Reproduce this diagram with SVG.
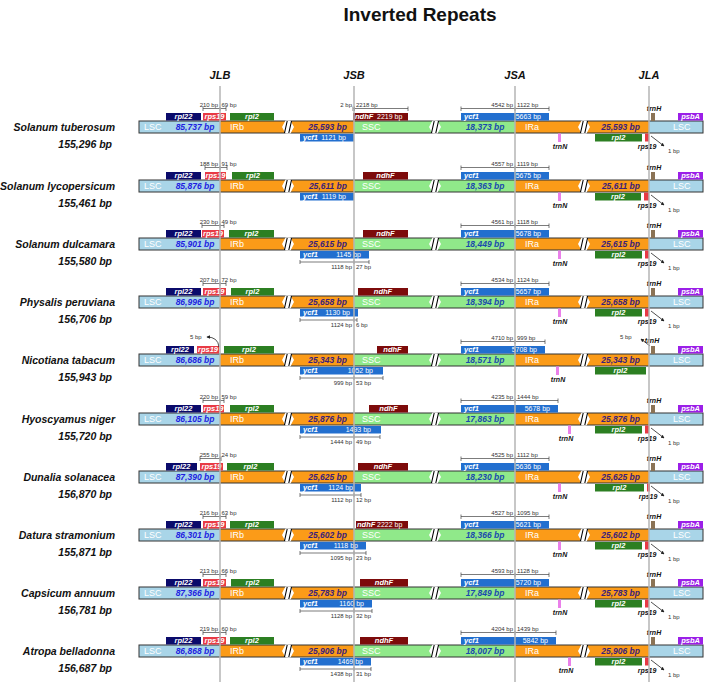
<svg xmlns="http://www.w3.org/2000/svg" xmlns:xlink="http://www.w3.org/1999/xlink" width="707" height="682" viewBox="0 0 707 682">
<style>
text{font-family:"Liberation Sans",Arial,sans-serif}
.lsc{fill:#a9d5e8}.ir{fill:#fb9b18}.ssc{fill:#90e98a}
.outl{fill:none;stroke:#333;stroke-width:1}
.g22{fill:#0b0b6b}.g19{fill:#e83a45}.gl2{fill:#2c7f22}.ndh{fill:#7d0b0b}.ycf{fill:#226fcf}.trh{fill:#8b7355}.psb{fill:#9b1fe8}.trn{fill:#ea80ea}
.gt{font-size:7.5px;font-weight:bold;font-style:italic;fill:#fff;text-anchor:middle}
.gs{font-size:7.5px;font-weight:bold;font-style:italic;fill:#fff}
.gn{font-size:7px;fill:#fff}
.ge{font-size:7px;fill:#fff;text-anchor:end}
.rg{font-size:9px;fill:#fff}
.bpL{font-size:8.5px;font-weight:bold;font-style:italic;fill:#1e1ee0;text-anchor:middle}
.bpI{font-size:8.5px;font-weight:bold;font-style:italic;fill:#3b1f7a;text-anchor:end}
.bpS{font-size:8.5px;font-weight:bold;font-style:italic;fill:#1a4aad;text-anchor:middle}
.sp{font-size:10.5px;font-weight:bold;font-style:italic;fill:#111;text-anchor:end}
.sm{font-size:6px;fill:#333}
.sme{font-size:6px;fill:#333;text-anchor:end}
.lb{font-size:7px;font-weight:bold;font-style:italic;fill:#111;text-anchor:middle}
.dim{fill:none;stroke:#444;stroke-width:0.7}
.con{fill:none;stroke:#222;stroke-width:0.8}
.vl{stroke:#b5b5b5;stroke-width:1.5}
.hd{font-size:11px;font-weight:bold;font-style:italic;fill:#111;text-anchor:middle}
</style>
<defs>
<marker id="ah" viewBox="0 0 6 6" refX="5" refY="3" markerWidth="4.5" markerHeight="4.5" orient="auto"><path d="M0,0 L6,3 L0,6 z" fill="#222"/></marker>
<g id="brk"><polygon points="-6,6 -2.5,-0.5 2.5,-0.5 6,6 2.5,12.5 -2.5,12.5" fill="#fff"/><path d="M-3.5,12 L-0.8,0 M0.8,12 L3.5,0" stroke="#000" stroke-width="1.1"/></g>
<g id="bar">
<rect class="lsc" x="139" y="0" width="81" height="12"/>
<rect class="ir" x="220" y="0" width="134" height="12"/>
<rect class="ssc" x="354" y="0" width="161" height="12"/>
<rect class="ir" x="515" y="0" width="134" height="12"/>
<rect class="lsc" x="649" y="0" width="54" height="12"/>
<rect class="outl" x="139" y="0" width="564" height="12"/>
<use xlink:href="#brk" href="#brk" x="288"/>
<use xlink:href="#brk" href="#brk" x="435"/>
<use xlink:href="#brk" href="#brk" x="584"/>
<text class="rg" x="144" y="9.3">LSC</text>
<text class="rg" x="230" y="9.3">IRb</text>
<text class="rg" x="362" y="9.3">SSC</text>
<text class="rg" x="525" y="9.3">IRa</text>
<text class="rg" x="673" y="9.3">LSC</text>
</g>
</defs>
<rect width="707" height="682" fill="#fff"/>
<text x="420" y="21" font-size="19" font-weight="bold" text-anchor="middle" fill="#111">Inverted Repeats</text>
<text class="hd" x="220" y="79">JLB</text>
<text class="hd" x="354" y="79">JSB</text>
<text class="hd" x="515" y="79">JSA</text>
<text class="hd" x="649" y="79">JLA</text>

<g id="row1" transform="translate(0,121)">
<text class="sp" x="115" y="10">Solanum tuberosum</text><text class="sp" x="112" y="26.5">155,296 bp</text>
<use xlink:href="#bar" href="#bar"/>
<text class="bpL" x="195" y="9.2">85,737 bp</text><text class="bpI" x="347" y="9.2">25,593 bp</text><text class="bpS" x="485" y="9.2">18,373 bp</text><text class="bpI" x="640" y="9.2">25,593 bp</text>
<rect class="g22" x="166" y="-8" width="35" height="7.5"/><text class="gt" x="183.5" y="-1.7">rpl22</text>
<rect class="g19" x="203" y="-8" width="23" height="7.5"/><text class="gt" x="214.5" y="-1.7">rps19</text>
<rect class="gl2" x="230" y="-8" width="44" height="7.5"/><text class="gt" x="252" y="-1.7">rpl2</text>
<path class="dim" d="M203,-14.5v4.5M203,-12.5H226M226,-14.5v4.5M220,-14.5v4.5"/><text class="sme" x="218" y="-14.5">210 bp</text><text class="sm" x="221.5" y="-14.5">69 bp</text>
<rect class="ndh" x="353" y="-8" width="55" height="7.5"/><text class="gs" x="355" y="-1.7">ndhF</text><text class="gn" x="377" y="-1.7">2219 bp</text>
<path class="dim" d="M353,-14.5v4.5M353,-12.5H408M408,-14.5v4.5M354.5,-14.5v4.5"/><text class="sme" x="352" y="-14.5">2 bp</text><text class="sm" x="356" y="-14.5">2218 bp</text>
<rect class="ycf" x="461" y="-8" width="88" height="7.5"/><text class="gs" x="464" y="-1.7">ycf1</text><text class="ge" x="541" y="-1.7">5663 bp</text>
<path class="dim" d="M461,-14.5v4.5M461,-12.5H549M549,-14.5v4.5M515,-14.5v4.5"/><text class="sme" x="513" y="-14.5">4542 bp</text><text class="sm" x="517" y="-14.5">1122 bp</text>
<rect class="trh" x="651" y="-8" width="4" height="8"/><text class="lb" x="654" y="-10.5">trnH</text>
<rect class="psb" x="678" y="-8" width="25" height="7.5"/><text class="gt" x="690.5" y="-1.7">psbA</text>
<rect class="ycf" x="300" y="13" width="54" height="7.5"/><text class="gs" x="303" y="19.4">ycf1</text><text class="ge" x="346" y="19.4">1121 bp</text>
<rect class="trn" x="558" y="12.5" width="3" height="8.5"/><text class="lb" x="560" y="28">trnN</text>
<rect class="gl2" x="595" y="13" width="47" height="7.5"/><text class="gt" x="618.5" y="19.4">rpl2</text>
<rect class="g19" x="645" y="12.5" width="4" height="8"/><text class="lb" x="647" y="28">rps19</text>
<text class="sm" x="668" y="32">1 bp</text>
</g>

<g id="row2" transform="translate(0,180)">
<text class="sp" x="115" y="10">Solanum lycopersicum</text><text class="sp" x="112" y="26.5">155,461 bp</text>
<use xlink:href="#bar" href="#bar"/>
<text class="bpL" x="195" y="9.2">85,876 bp</text><text class="bpI" x="347" y="9.2">25,611 bp</text><text class="bpS" x="485" y="9.2">18,363 bp</text><text class="bpI" x="640" y="9.2">25,611 bp</text>
<rect class="g22" x="166" y="-8" width="35" height="7.5"/><text class="gt" x="183.5" y="-1.7">rpl22</text>
<rect class="g19" x="205" y="-8" width="21" height="7.5"/><text class="gt" x="215.5" y="-1.7">rps19</text>
<rect class="gl2" x="232" y="-8" width="42" height="7.5"/><text class="gt" x="253" y="-1.7">rpl2</text>
<path class="dim" d="M205,-14.5v4.5M205,-12.5H227M227,-14.5v4.5M220,-14.5v4.5"/><text class="sme" x="218" y="-14.5">188 bp</text><text class="sm" x="221.5" y="-14.5">91 bp</text>
<rect class="ndh" x="363" y="-8" width="45" height="7.5"/><text class="gt" x="385.5" y="-1.7">ndhF</text>
<rect class="ycf" x="461" y="-8" width="88" height="7.5"/><text class="gs" x="464" y="-1.7">ycf1</text><text class="ge" x="541" y="-1.7">5675 bp</text>
<path class="dim" d="M461,-14.5v4.5M461,-12.5H549M549,-14.5v4.5M515,-14.5v4.5"/><text class="sme" x="513" y="-14.5">4557 bp</text><text class="sm" x="517" y="-14.5">1119 bp</text>
<rect class="trh" x="651" y="-8" width="4" height="8"/><text class="lb" x="654" y="-10.5">trnH</text>
<rect class="psb" x="678" y="-8" width="25" height="7.5"/><text class="gt" x="690.5" y="-1.7">psbA</text>
<rect class="ycf" x="300" y="13" width="54" height="7.5"/><text class="gs" x="303" y="19.4">ycf1</text><text class="ge" x="346" y="19.4">1119 bp</text>
<rect class="trn" x="558" y="12.5" width="3" height="8.5"/><text class="lb" x="560" y="28">trnN</text>
<rect class="gl2" x="595" y="13" width="46" height="7.5"/><text class="gt" x="618" y="19.4">rpl2</text>
<rect class="g19" x="644" y="12.5" width="5" height="8"/><text class="lb" x="647" y="28">rps19</text>
<text class="sm" x="668" y="32">1 bp</text>
</g>

<g id="row3" transform="translate(0,238)">
<text class="sp" x="115" y="10">Solanum dulcamara</text><text class="sp" x="112" y="26.5">155,580 bp</text>
<use xlink:href="#bar" href="#bar"/>
<text class="bpL" x="195" y="9.2">85,901 bp</text><text class="bpI" x="347" y="9.2">25,615 bp</text><text class="bpS" x="485" y="9.2">18,449 bp</text><text class="bpI" x="640" y="9.2">25,615 bp</text>
<rect class="g22" x="166" y="-8" width="35" height="7.5"/><text class="gt" x="183.5" y="-1.7">rpl22</text>
<rect class="g19" x="202" y="-8" width="22" height="7.5"/><text class="gt" x="213" y="-1.7">rps19</text>
<rect class="gl2" x="229" y="-8" width="45" height="7.5"/><text class="gt" x="251.5" y="-1.7">rpl2</text>
<path class="dim" d="M202,-14.5v4.5M202,-12.5H224M224,-14.5v4.5M220,-14.5v4.5"/><text class="sme" x="218" y="-14.5">230 bp</text><text class="sm" x="221.5" y="-14.5">49 bp</text>
<rect class="ndh" x="363" y="-8" width="45" height="7.5"/><text class="gt" x="385.5" y="-1.7">ndhF</text>
<rect class="ycf" x="461" y="-8" width="88" height="7.5"/><text class="gs" x="464" y="-1.7">ycf1</text><text class="ge" x="541" y="-1.7">5678 bp</text>
<path class="dim" d="M461,-14.5v4.5M461,-12.5H549M549,-14.5v4.5M515,-14.5v4.5"/><text class="sme" x="513" y="-14.5">4561 bp</text><text class="sm" x="517" y="-14.5">1118 bp</text>
<rect class="trh" x="651" y="-8" width="4" height="8"/><text class="lb" x="654" y="-10.5">trnH</text>
<rect class="psb" x="678" y="-8" width="25" height="7.5"/><text class="gt" x="690.5" y="-1.7">psbA</text>
<rect class="ycf" x="300" y="13" width="69" height="7.5"/><text class="gs" x="303" y="19.4">ycf1</text><text class="ge" x="361" y="19.4">1145 bp</text>
<path class="dim" d="M300,22v4M300,24H369M369,22v4M354,22v4"/><text class="sme" x="352" y="31">1118 bp</text><text class="sm" x="356" y="31">27 bp</text>
<rect class="trn" x="558" y="12.5" width="3" height="8.5"/><text class="lb" x="560" y="28">trnN</text>
<rect class="gl2" x="595" y="13" width="47" height="7.5"/><text class="gt" x="618.5" y="19.4">rpl2</text>
<rect class="g19" x="645" y="12.5" width="4" height="8"/><text class="lb" x="647" y="28">rps19</text>
<text class="sm" x="668" y="32">1 bp</text>
</g>

<g id="row4" transform="translate(0,296)">
<text class="sp" x="115" y="10">Physalis peruviana</text><text class="sp" x="112" y="26.5">156,706 bp</text>
<use xlink:href="#bar" href="#bar"/>
<text class="bpL" x="195" y="9.2">86,996 bp</text><text class="bpI" x="347" y="9.2">25,658 bp</text><text class="bpS" x="485" y="9.2">18,394 bp</text><text class="bpI" x="640" y="9.2">25,658 bp</text>
<rect class="g22" x="166" y="-8" width="35" height="7.5"/><text class="gt" x="183.5" y="-1.7">rpl22</text>
<rect class="g19" x="203" y="-8" width="23" height="7.5"/><text class="gt" x="214.5" y="-1.7">rps19</text>
<rect class="gl2" x="231" y="-8" width="43" height="7.5"/><text class="gt" x="252.5" y="-1.7">rpl2</text>
<path class="dim" d="M203,-14.5v4.5M203,-12.5H226M226,-14.5v4.5M220,-14.5v4.5"/><text class="sme" x="218" y="-14.5">207 bp</text><text class="sm" x="221.5" y="-14.5">72 bp</text>
<rect class="ndh" x="358" y="-8" width="50" height="7.5"/><text class="gt" x="383" y="-1.7">ndhF</text>
<rect class="ycf" x="461" y="-8" width="88" height="7.5"/><text class="gs" x="464" y="-1.7">ycf1</text><text class="ge" x="541" y="-1.7">5657 bp</text>
<path class="dim" d="M461,-14.5v4.5M461,-12.5H549M549,-14.5v4.5M515,-14.5v4.5"/><text class="sme" x="513" y="-14.5">4534 bp</text><text class="sm" x="517" y="-14.5">1124 bp</text>
<rect class="trh" x="651" y="-8" width="4" height="8"/><text class="lb" x="654" y="-10.5">trnH</text>
<rect class="psb" x="678" y="-8" width="25" height="7.5"/><text class="gt" x="690.5" y="-1.7">psbA</text>
<rect class="ycf" x="300" y="13" width="58" height="7.5"/><text class="gs" x="303" y="19.4">ycf1</text><text class="ge" x="350" y="19.4">1130 bp</text>
<path class="dim" d="M300,22v4M300,24H357M357,22v4M354,22v4"/><text class="sme" x="352" y="31">1124 bp</text><text class="sm" x="356" y="31">6 bp</text>
<rect class="trn" x="558" y="12.5" width="3" height="8.5"/><text class="lb" x="560" y="28">trnN</text>
<rect class="gl2" x="595" y="13" width="47" height="7.5"/><text class="gt" x="618.5" y="19.4">rpl2</text>
<rect class="g19" x="645" y="12.5" width="4" height="8"/><text class="lb" x="647" y="28">rps19</text>
<text class="sm" x="668" y="32">1 bp</text>
</g>

<g id="row5" transform="translate(0,354)">
<text class="sp" x="115" y="10">Nicotiana tabacum</text><text class="sp" x="112" y="26.5">155,943 bp</text>
<use xlink:href="#bar" href="#bar"/>
<text class="bpL" x="195" y="9.2">86,686 bp</text><text class="bpI" x="347" y="9.2">25,343 bp</text><text class="bpS" x="485" y="9.2">18,571 bp</text><text class="bpI" x="640" y="9.2">25,343 bp</text>
<rect class="g22" x="166" y="-8" width="28" height="7.5"/><text class="gt" x="180" y="-1.7">rpl22</text>
<rect class="g19" x="197" y="-8" width="22" height="7.5"/><text class="gt" x="208" y="-1.7">rps19</text>
<rect class="gl2" x="224" y="-8" width="50" height="7.5"/><text class="gt" x="249" y="-1.7">rpl2</text>
<text class="sm" x="190" y="-15.5">5 bp</text>
<rect class="ndh" x="377" y="-8" width="31" height="7.5"/><text class="gt" x="392.5" y="-1.7">ndhF</text>
<rect class="ycf" x="461" y="-8" width="84" height="7.5"/><text class="gs" x="464" y="-1.7">ycf1</text><text class="ge" x="537" y="-1.7">5708 bp</text>
<path class="dim" d="M461,-14.5v4.5M461,-12.5H545M545,-14.5v4.5M515,-14.5v4.5"/><text class="sme" x="513" y="-14.5">4710 bp</text><text class="sm" x="517" y="-14.5">999 bp</text>
<rect class="trh" x="651" y="-8" width="4" height="8"/><text class="lb" x="652" y="-11">trnH</text>
<text class="sm" x="620" y="-15.5">5 bp</text>
<rect class="psb" x="678" y="-8" width="25" height="7.5"/><text class="gt" x="690.5" y="-1.7">psbA</text>
<rect class="ycf" x="300" y="13" width="83" height="7.5"/><text class="gs" x="303" y="19.4">ycf1</text><text class="ge" x="373" y="19.4">1052 bp</text>
<path class="dim" d="M300,22v4M300,24H383M383,22v4M354,22v4"/><text class="sme" x="352" y="31">999 bp</text><text class="sm" x="356" y="31">53 bp</text>
<rect class="trn" x="556" y="12.5" width="3" height="8.5"/><text class="lb" x="558" y="28">trnN</text>
<rect class="gl2" x="595" y="13" width="51" height="7.5"/><text class="gt" x="620.5" y="19.4">rpl2</text>
</g>

<g id="row6" transform="translate(0,413)">
<text class="sp" x="115" y="10">Hyoscyamus niger</text><text class="sp" x="112" y="26.5">155,720 bp</text>
<use xlink:href="#bar" href="#bar"/>
<text class="bpL" x="195" y="9.2">86,105 bp</text><text class="bpI" x="347" y="9.2">25,876 bp</text><text class="bpS" x="485" y="9.2">17,863 bp</text><text class="bpI" x="640" y="9.2">25,876 bp</text>
<rect class="g22" x="166" y="-8" width="35" height="7.5"/><text class="gt" x="183.5" y="-1.7">rpl22</text>
<rect class="g19" x="203" y="-8" width="21" height="7.5"/><text class="gt" x="213.5" y="-1.7">rps19</text>
<rect class="gl2" x="230" y="-8" width="44" height="7.5"/><text class="gt" x="252" y="-1.7">rpl2</text>
<path class="dim" d="M203,-14.5v4.5M203,-12.5H224M224,-14.5v4.5M220,-14.5v4.5"/><text class="sme" x="218" y="-14.5">220 bp</text><text class="sm" x="221.5" y="-14.5">59 bp</text>
<rect class="ndh" x="369" y="-8" width="39" height="7.5"/><text class="gt" x="388.5" y="-1.7">ndhF</text>
<rect class="ycf" x="461" y="-8" width="97" height="7.5"/><text class="gs" x="464" y="-1.7">ycf1</text><text class="ge" x="550" y="-1.7">5678 bp</text>
<path class="dim" d="M461,-14.5v4.5M461,-12.5H558M558,-14.5v4.5M515,-14.5v4.5"/><text class="sme" x="513" y="-14.5">4235 bp</text><text class="sm" x="517" y="-14.5">1444 bp</text>
<rect class="trh" x="651" y="-8" width="4" height="8"/><text class="lb" x="654" y="-10.5">trnH</text>
<rect class="psb" x="678" y="-8" width="25" height="7.5"/><text class="gt" x="690.5" y="-1.7">psbA</text>
<rect class="ycf" x="300" y="13" width="81" height="7.5"/><text class="gs" x="303" y="19.4">ycf1</text><text class="ge" x="371" y="19.4">1493 bp</text>
<path class="dim" d="M300,22v4M300,24H380M380,22v4M354,22v4"/><text class="sme" x="352" y="31">1444 bp</text><text class="sm" x="356" y="31">49 bp</text>
<rect class="trn" x="568" y="12.5" width="3" height="8.5"/><text class="lb" x="566" y="28">trnN</text>
<rect class="gl2" x="595" y="13" width="47" height="7.5"/><text class="gt" x="618.5" y="19.4">rpl2</text>
<rect class="g19" x="645" y="12.5" width="4" height="8"/><text class="lb" x="647" y="28">rps19</text>
<text class="sm" x="668" y="32">1 bp</text>
</g>

<g id="row7" transform="translate(0,471)">
<text class="sp" x="115" y="10">Dunalia solanacea</text><text class="sp" x="112" y="26.5">156,870 bp</text>
<use xlink:href="#bar" href="#bar"/>
<text class="bpL" x="195" y="9.2">87,390 bp</text><text class="bpI" x="347" y="9.2">25,625 bp</text><text class="bpS" x="485" y="9.2">18,230 bp</text><text class="bpI" x="640" y="9.2">25,625 bp</text>
<rect class="g22" x="166" y="-8" width="31" height="7.5"/><text class="gt" x="181.5" y="-1.7">rpl22</text>
<rect class="g19" x="200" y="-8" width="23" height="7.5"/><text class="gt" x="211.5" y="-1.7">rps19</text>
<rect class="gl2" x="227" y="-8" width="47" height="7.5"/><text class="gt" x="250.5" y="-1.7">rpl2</text>
<path class="dim" d="M200,-14.5v4.5M200,-12.5H221M221,-14.5v4.5M220,-14.5v4.5"/><text class="sme" x="218" y="-14.5">255 bp</text><text class="sm" x="221.5" y="-14.5">24 bp</text>
<rect class="ndh" x="358" y="-8" width="50" height="7.5"/><text class="gt" x="383" y="-1.7">ndhF</text>
<rect class="ycf" x="461" y="-8" width="88" height="7.5"/><text class="gs" x="464" y="-1.7">ycf1</text><text class="ge" x="541" y="-1.7">5636 bp</text>
<path class="dim" d="M461,-14.5v4.5M461,-12.5H549M549,-14.5v4.5M515,-14.5v4.5"/><text class="sme" x="513" y="-14.5">4525 bp</text><text class="sm" x="517" y="-14.5">1112 bp</text>
<rect class="trh" x="651" y="-8" width="4" height="8"/><text class="lb" x="654" y="-10.5">trnH</text>
<rect class="psb" x="678" y="-8" width="25" height="7.5"/><text class="gt" x="690.5" y="-1.7">psbA</text>
<rect class="ycf" x="300" y="13" width="61" height="7.5"/><text class="gs" x="303" y="19.4">ycf1</text><text class="ge" x="353" y="19.4">1124 bp</text>
<path class="dim" d="M300,22v4M300,24H361M361,22v4M354,22v4"/><text class="sme" x="352" y="31">1112 bp</text><text class="sm" x="356" y="31">12 bp</text>
<rect class="trn" x="558" y="12.5" width="3" height="8.5"/><text class="lb" x="560" y="28">trnN</text>
<rect class="gl2" x="595" y="13" width="49" height="7.5"/><text class="gt" x="619.5" y="19.4">rpl2</text>
<rect class="g19" x="647" y="12.5" width="3" height="8"/><text class="lb" x="648" y="28">rps19</text>
<text class="sm" x="668" y="32">1 bp</text>
</g>

<g id="row8" transform="translate(0,529)">
<text class="sp" x="115" y="10">Datura stramonium</text><text class="sp" x="112" y="26.5">155,871 bp</text>
<use xlink:href="#bar" href="#bar"/>
<text class="bpL" x="195" y="9.2">86,301 bp</text><text class="bpI" x="347" y="9.2">25,602 bp</text><text class="bpS" x="485" y="9.2">18,366 bp</text><text class="bpI" x="640" y="9.2">25,602 bp</text>
<rect class="g22" x="166" y="-8" width="35" height="7.5"/><text class="gt" x="183.5" y="-1.7">rpl22</text>
<rect class="g19" x="203" y="-8" width="23" height="7.5"/><text class="gt" x="214.5" y="-1.7">rps19</text>
<rect class="gl2" x="230" y="-8" width="44" height="7.5"/><text class="gt" x="252" y="-1.7">rpl2</text>
<path class="dim" d="M203,-14.5v4.5M203,-12.5H226M226,-14.5v4.5M220,-14.5v4.5"/><text class="sme" x="218" y="-14.5">216 bp</text><text class="sm" x="221.5" y="-14.5">63 bp</text>
<rect class="ndh" x="356" y="-8" width="52" height="7.5"/><text class="gs" x="357" y="-1.7">ndhF</text><text class="gn" x="377" y="-1.7">2222 bp</text>
<rect class="ycf" x="461" y="-8" width="88" height="7.5"/><text class="gs" x="464" y="-1.7">ycf1</text><text class="ge" x="541" y="-1.7">5621 bp</text>
<path class="dim" d="M461,-14.5v4.5M461,-12.5H549M549,-14.5v4.5M515,-14.5v4.5"/><text class="sme" x="513" y="-14.5">4527 bp</text><text class="sm" x="517" y="-14.5">1095 bp</text>
<rect class="trh" x="651" y="-8" width="4" height="8"/><text class="lb" x="654" y="-10.5">trnH</text>
<rect class="psb" x="678" y="-8" width="25" height="7.5"/><text class="gt" x="690.5" y="-1.7">psbA</text>
<rect class="ycf" x="300" y="13" width="66" height="7.5"/><text class="gs" x="303" y="19.4">ycf1</text><text class="ge" x="358" y="19.4">1118 bp</text>
<path class="dim" d="M300,22v4M300,24H366M366,22v4M354,22v4"/><text class="sme" x="352" y="31">1095 bp</text><text class="sm" x="356" y="31">23 bp</text>
<rect class="trn" x="558" y="12.5" width="3" height="8.5"/><text class="lb" x="560" y="28">trnN</text>
<rect class="gl2" x="595" y="13" width="47" height="7.5"/><text class="gt" x="618.5" y="19.4">rpl2</text>
<rect class="g19" x="645" y="12.5" width="4" height="8"/><text class="lb" x="647" y="28">rps19</text>
<text class="sm" x="668" y="32">1 bp</text>
</g>

<g id="row9" transform="translate(0,587)">
<text class="sp" x="115" y="10">Capsicum annuum</text><text class="sp" x="112" y="26.5">156,781 bp</text>
<use xlink:href="#bar" href="#bar"/>
<text class="bpL" x="195" y="9.2">87,366 bp</text><text class="bpI" x="347" y="9.2">25,783 bp</text><text class="bpS" x="485" y="9.2">17,849 bp</text><text class="bpI" x="640" y="9.2">25,783 bp</text>
<rect class="g22" x="166" y="-8" width="35" height="7.5"/><text class="gt" x="183.5" y="-1.7">rpl22</text>
<rect class="g19" x="203" y="-8" width="23" height="7.5"/><text class="gt" x="214.5" y="-1.7">rps19</text>
<rect class="gl2" x="231" y="-8" width="43" height="7.5"/><text class="gt" x="252.5" y="-1.7">rpl2</text>
<path class="dim" d="M203,-14.5v4.5M203,-12.5H226M226,-14.5v4.5M220,-14.5v4.5"/><text class="sme" x="218" y="-14.5">213 bp</text><text class="sm" x="221.5" y="-14.5">66 bp</text>
<rect class="ndh" x="360" y="-8" width="48" height="7.5"/><text class="gt" x="384" y="-1.7">ndhF</text>
<rect class="ycf" x="461" y="-8" width="88" height="7.5"/><text class="gs" x="464" y="-1.7">ycf1</text><text class="ge" x="541" y="-1.7">5720 bp</text>
<path class="dim" d="M461,-14.5v4.5M461,-12.5H549M549,-14.5v4.5M515,-14.5v4.5"/><text class="sme" x="513" y="-14.5">4593 bp</text><text class="sm" x="517" y="-14.5">1128 bp</text>
<rect class="trh" x="651" y="-8" width="4" height="8"/><text class="lb" x="654" y="-10.5">trnH</text>
<rect class="psb" x="678" y="-8" width="25" height="7.5"/><text class="gt" x="690.5" y="-1.7">psbA</text>
<rect class="ycf" x="300" y="13" width="72" height="7.5"/><text class="gs" x="303" y="19.4">ycf1</text><text class="ge" x="364" y="19.4">1160 bp</text>
<path class="dim" d="M300,22v4M300,24H372M372,22v4M354,22v4"/><text class="sme" x="352" y="31">1128 bp</text><text class="sm" x="356" y="31">32 bp</text>
<rect class="trn" x="558" y="12.5" width="3" height="8.5"/><text class="lb" x="560" y="28">trnN</text>
<rect class="gl2" x="595" y="13" width="47" height="7.5"/><text class="gt" x="618.5" y="19.4">rpl2</text>
<rect class="g19" x="645" y="12.5" width="4" height="8"/><text class="lb" x="647" y="28">rps19</text>
<text class="sm" x="668" y="32">1 bp</text>
</g>

<g id="row10" transform="translate(0,645)">
<text class="sp" x="115" y="10">Atropa belladonna</text><text class="sp" x="112" y="26.5">156,687 bp</text>
<use xlink:href="#bar" href="#bar"/>
<text class="bpL" x="195" y="9.2">86,868 bp</text><text class="bpI" x="347" y="9.2">25,906 bp</text><text class="bpS" x="485" y="9.2">18,007 bp</text><text class="bpI" x="640" y="9.2">25,906 bp</text>
<rect class="g22" x="166" y="-8" width="35" height="7.5"/><text class="gt" x="183.5" y="-1.7">rpl22</text>
<rect class="g19" x="203" y="-8" width="23" height="7.5"/><text class="gt" x="214.5" y="-1.7">rps19</text>
<rect class="gl2" x="230" y="-8" width="44" height="7.5"/><text class="gt" x="252" y="-1.7">rpl2</text>
<path class="dim" d="M203,-14.5v4.5M203,-12.5H226M226,-14.5v4.5M220,-14.5v4.5"/><text class="sme" x="218" y="-14.5">219 bp</text><text class="sm" x="221.5" y="-14.5">60 bp</text>
<rect class="ndh" x="360" y="-8" width="48" height="7.5"/><text class="gt" x="384" y="-1.7">ndhF</text>
<rect class="ycf" x="461" y="-8" width="95" height="7.5"/><text class="gs" x="464" y="-1.7">ycf1</text><text class="ge" x="548" y="-1.7">5842 bp</text>
<path class="dim" d="M461,-14.5v4.5M461,-12.5H556M556,-14.5v4.5M515,-14.5v4.5"/><text class="sme" x="513" y="-14.5">4204 bp</text><text class="sm" x="517" y="-14.5">1439 bp</text>
<rect class="trh" x="651" y="-8" width="4" height="8"/><text class="lb" x="654" y="-10.5">trnH</text>
<rect class="psb" x="678" y="-8" width="25" height="7.5"/><text class="gt" x="690.5" y="-1.7">psbA</text>
<rect class="ycf" x="300" y="13" width="71" height="7.5"/><text class="gs" x="303" y="19.4">ycf1</text><text class="ge" x="363" y="19.4">1469 bp</text>
<path class="dim" d="M300,22v4M300,24H371M371,22v4M354,22v4"/><text class="sme" x="352" y="31">1438 bp</text><text class="sm" x="356" y="31">31 bp</text>
<rect class="trn" x="568" y="12.5" width="3" height="8.5"/><text class="lb" x="566" y="28">trnN</text>
<rect class="gl2" x="595" y="13" width="47" height="7.5"/><text class="gt" x="618.5" y="19.4">rpl2</text>
<rect class="g19" x="645" y="12.5" width="4" height="8"/><text class="lb" x="647" y="28">rps19</text>
<text class="sm" x="668" y="32">1 bp</text>
</g>

<g id="connectors">
<path class="con" marker-end="url(#ah)" d="M651,136 L664,146"/>
<path class="con" marker-end="url(#ah)" d="M651,195 L664,205"/>
<path class="con" marker-end="url(#ah)" d="M651,253 L664,263"/>
<path class="con" marker-end="url(#ah)" d="M651,311 L664,321"/>
<path class="con" marker-end="url(#ah)" d="M219,347 Q218,337 207,337"/>
<path class="con" marker-end="url(#ah)" d="M650,346 L641,339"/>
<path class="con" marker-end="url(#ah)" d="M651,428 L664,438"/>
<path class="con" marker-end="url(#ah)" d="M651,486 L664,496"/>
<path class="con" marker-end="url(#ah)" d="M651,544 L664,554"/>
<path class="con" marker-end="url(#ah)" d="M651,602 L664,612"/>
<path class="con" marker-end="url(#ah)" d="M651,660 L664,670"/>
</g>

<g id="junctions">
<line class="vl" x1="220" y1="86" x2="220" y2="682"/>
<line class="vl" x1="354" y1="86" x2="354" y2="682"/>
<line class="vl" x1="515" y1="86" x2="515" y2="682"/>
<line class="vl" x1="649" y1="86" x2="649" y2="682"/>
</g>
</svg>
